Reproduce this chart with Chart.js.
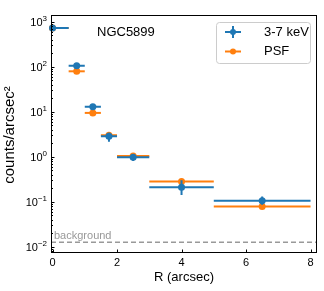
<!DOCTYPE html>
<html>
<head>
<meta charset="utf-8">
<script src="https://cdn.jsdelivr.net/npm/chart.js@4.4.1/dist/chart.umd.min.js"></script>
<style>
  html, body { margin: 0; padding: 0; background: #fff; }
  #wrap { width: 324px; height: 291px; position: relative; }
</style>
</head>
<body>
<div id="wrap"><canvas id="profile"></canvas></div>
<script>
// radial bins (arcsec)
const radius = [0, 0.75, 1.25, 1.75, 2.5, 4, 6.5];
const binLow = [-0.5, 0.5, 1, 1.5, 2, 3, 5];
const binHigh = [0.5, 1, 1.5, 2, 3, 5, 8];

// 3-7 keV surface brightness and its error range
const hardCounts = [720, 105, 12.8, 2.85, 0.97, 0.21, 0.105];
const hardLow = [680, 97, 11.6, 2.15, 0.8, 0.14, 0.085];
const hardHigh = [760, 113, 14.0, 3.4, 1.15, 0.3, 0.13];

// PSF model
const psfCounts = [720, 79, 9.4, 3.0, 1.04, 0.28, 0.078];

const backgroundLevel = 0.0125;
const xTicks = [0, 2, 4, 6, 8];
const yExponents = [-2, -1, 0, 1, 2, 3];

const BLUE = "#1f77b4";
const ORANGE = "#ff7f0e";
const FONT = "Liberation Sans, Arial, Helvetica, sans-serif";

// horizontal bin bars + vertical error bars, drawn under each dataset's markers
const errorBars = {
  id: "errorBars",
  beforeDatasetDraw(chart, args) {
    const ds = chart.data.datasets[args.index];
    const { x, y } = chart.scales;
    const a = chart.chartArea;
    const ctx = chart.ctx;
    ctx.save();
    ctx.beginPath();
    ctx.rect(a.left, a.top, a.right - a.left, a.bottom - a.top);
    ctx.clip();
    ctx.strokeStyle = ds.borderColor;
    ctx.lineWidth = 2;
    ds.data.forEach((p, i) => {
      const px = x.getPixelForValue(p.x);
      const py = y.getPixelForValue(p.y);
      ctx.beginPath();
      ctx.moveTo(x.getPixelForValue(binLow[i]), py);
      ctx.lineTo(x.getPixelForValue(binHigh[i]), py);
      if (ds.yLow) {
        ctx.moveTo(px, y.getPixelForValue(ds.yLow[i]));
        ctx.lineTo(px, y.getPixelForValue(ds.yHigh[i]));
      }
      ctx.stroke();
    });
    ctx.restore();
  }
};

// background line, ticks, spines, labels, legend
const decorations = {
  id: "decorations",
  beforeDatasetsDraw(chart) {
    const { y } = chart.scales;
    const a = chart.chartArea;
    const ctx = chart.ctx;
    const by = y.getPixelForValue(backgroundLevel);
    ctx.save();
    ctx.strokeStyle = "#999999";
    ctx.lineWidth = 1.5;
    ctx.setLineDash([5, 3]);
    ctx.beginPath();
    ctx.moveTo(a.left, by);
    ctx.lineTo(a.right, by);
    ctx.stroke();
    ctx.setLineDash([]);
    ctx.fillStyle = "#999999";
    ctx.font = "11px " + FONT;
    ctx.textBaseline = "alphabetic";
    ctx.fillText("background", a.left + 3, by - 3);
    ctx.restore();
  },
  afterDraw(chart) {
    const { x, y } = chart.scales;
    const a = chart.chartArea;
    const ctx = chart.ctx;
    ctx.save();
    ctx.strokeStyle = "#000";
    ctx.lineWidth = 1;

    // inward ticks on left axis: majors at decades, minors 2..9
    ctx.beginPath();
    for (let e = -3; e <= 3; e++) {
      for (let m = 1; m <= 9; m++) {
        const v = m * Math.pow(10, e);
        if (v < y.min || v > y.max) continue;
        const py = Math.round(y.getPixelForValue(v)) + 0.5;
        const len = m === 1 ? 3.5 : 2;
        ctx.moveTo(a.left, py);
        ctx.lineTo(a.left + len, py);
      }
    }
    // inward ticks on bottom axis
    xTicks.forEach(v => {
      const px = Math.round(x.getPixelForValue(v)) + 0.5;
      ctx.moveTo(px, a.bottom);
      ctx.lineTo(px, a.bottom - 3.5);
    });
    ctx.stroke();

    // spines
    ctx.strokeRect(Math.round(a.left) + 0.5, Math.round(a.top) + 0.5,
      Math.round(a.right - a.left) - 1, Math.round(a.bottom - a.top) - 1);

    // y tick labels 10^n
    ctx.fillStyle = "#000";
    yExponents.forEach(e => {
      const py = y.getPixelForValue(Math.pow(10, e));
      const sup = String(e).replace("-", "\u2212");
      ctx.font = "8px " + FONT;
      const sw = ctx.measureText(sup).width;
      const right = a.left - 4;
      ctx.textAlign = "left";
      ctx.textBaseline = "alphabetic";
      ctx.fillText(sup, right - sw, py - 1);
      ctx.font = "11px " + FONT;
      ctx.textAlign = "right";
      ctx.fillText("10", right - sw, py + 4);
    });

    // x tick labels
    ctx.font = "11px " + FONT;
    ctx.textAlign = "center";
    ctx.textBaseline = "top";
    xTicks.forEach(v => ctx.fillText(String(v), x.getPixelForValue(v), a.bottom + 4));

    // axis titles
    ctx.font = "13px " + FONT;
    ctx.textBaseline = "middle";
    ctx.fillText("R (arcsec)", (a.left + a.right) / 2, 277);
    ctx.save();
    ctx.translate(10, (a.top + a.bottom) / 2 + 1);
    ctx.rotate(-Math.PI / 2);
    ctx.font = "15px " + FONT;
    ctx.fillText("counts/arcsec\u00b2", 0, 0);
    ctx.restore();

    // source label
    ctx.textAlign = "left";
    ctx.font = "13px " + FONT;
    ctx.fillText("NGC5899", 97, 32);

    // legend
    const lx = 216, ly = 22, lw = 94, lh = 41;
    ctx.fillStyle = "rgba(255,255,255,0.8)";
    ctx.strokeStyle = "#cccccc";
    ctx.lineWidth = 1;
    ctx.beginPath();
    ctx.roundRect(lx + 0.5, ly + 0.5, lw, lh, 3);
    ctx.fill();
    ctx.stroke();
    const entries = chart.data.datasets.slice().sort((p, q) => p.legendRank - q.legendRank);
    entries.forEach((ds, i) => {
      const cy = 32 + i * 19.5;
      const cx = 233;
      ctx.strokeStyle = ds.borderColor;
      ctx.fillStyle = ds.borderColor;
      ctx.lineWidth = 2;
      ctx.beginPath();
      ctx.moveTo(cx - 8, cy);
      ctx.lineTo(cx + 8, cy);
      if (ds.yLow) {
        ctx.moveTo(cx, cy - 6);
        ctx.lineTo(cx, cy + 6);
      }
      ctx.stroke();
      ctx.beginPath();
      ctx.arc(cx, cy, 3, 0, Math.PI * 2);
      ctx.fill();
      ctx.fillStyle = "#000";
      ctx.font = "13px " + FONT;
      ctx.textAlign = "left";
      ctx.textBaseline = "middle";
      ctx.fillText(ds.label, 264, cy);
    });
    ctx.restore();
  }
};

new Chart(document.getElementById("profile"), {
  type: "scatter",
  data: {
    datasets: [
      {
        label: "3-7 keV",
        legendRank: 0,
        data: radius.map((r, i) => ({ x: r, y: hardCounts[i] })),
        yLow: hardLow,
        yHigh: hardHigh,
        borderColor: BLUE,
        backgroundColor: BLUE,
        pointRadius: 3.5,
        pointBorderWidth: 0,
        order: 0,
        clip: 6
      },
      {
        label: "PSF",
        legendRank: 1,
        data: radius.map((r, i) => ({ x: r, y: psfCounts[i] })),
        borderColor: ORANGE,
        backgroundColor: ORANGE,
        pointRadius: 3.5,
        pointBorderWidth: 0,
        order: 1,
        clip: 6
      }
    ]
  },
  options: {
    responsive: true,
    maintainAspectRatio: false,
    animation: false,
    events: [],
    layout: { padding: { top: 15, right: 7, left: 0, bottom: 0 } },
    plugins: { legend: { display: false }, tooltip: { enabled: false } },
    scales: {
      x: {
        type: "linear",
        min: -0.047,
        max: 8.2,
        grid: { display: false },
        border: { display: false },
        ticks: { display: false },
        afterFit(scale) { scale.height = 38; }
      },
      y: {
        type: "logarithmic",
        min: 0.00724,
        max: 1409,
        grid: { display: false },
        border: { display: false },
        ticks: { display: false },
        afterFit(scale) { scale.width = 51; }
      }
    }
  },
  plugins: [errorBars, decorations]
});
</script>
</body>
</html>
